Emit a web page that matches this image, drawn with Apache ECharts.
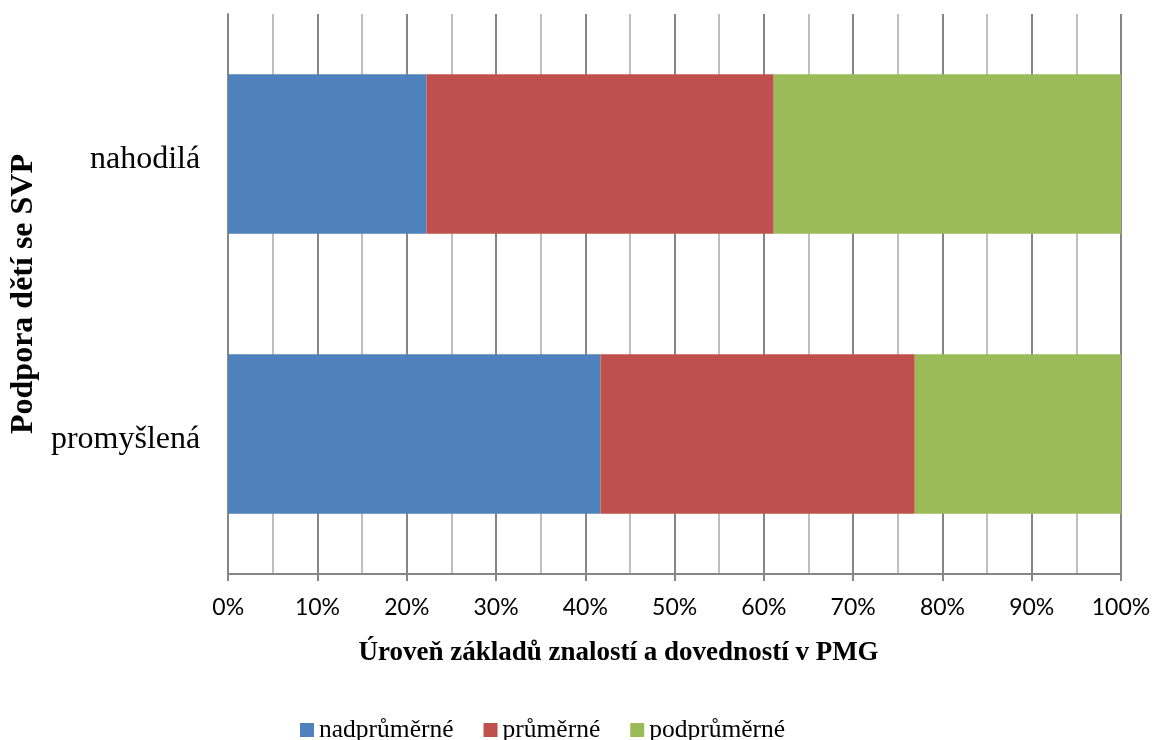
<!DOCTYPE html>
<html>
<head>
<meta charset="utf-8">
<title>Podpora dětí se SVP</title>
<script src="https://cdn.jsdelivr.net/npm/echarts@6/dist/echarts.min.js"></script>
<style>
    html, body { margin: 0; padding: 0; background: #fff; }
    #chart { width: 1154px; height: 740px; }
</style>
</head>
<body>
<div id="chart"></div>
<script>
// categories from bottom to top
var categories = ['promyšlená', 'nahodilá'];
var seriesNames = ['nadprůměrné', 'průměrné', 'podprůměrné'];
// shares in percent, same order as categories
var nadprumerne = [41.7, 22.2];
var prumerne = [35.2, 38.9];
var podprumerne = [23.1, 38.9];

var colors = ['#4f81bd', '#c0504d', '#9bbb59'];
var serif = '"Liberation Serif", "Times New Roman", serif';

function stackBar(name, data, color) {
    return {
        name: name,
        type: 'bar',
        stack: 'total',
        barCategoryGap: '43%',
        itemStyle: {color: color},
        emphasis: {disabled: true},
        data: data
    };
}

var myChart = echarts.init(document.getElementById('chart'));

option = {
    animation: false,
    grid: {left: 225, right: 33, top: 14, bottom: 166},
    legend: {
        left: 295,
        top: 712,
        itemWidth: 14,
        itemHeight: 14,
        itemGap: 30,
        icon: 'rect',
        textStyle: {fontFamily: serif, fontSize: 25.5, color: '#000'},
        data: seriesNames
    },
    xAxis: {
        type: 'value',
        min: 0,
        max: 100,
        interval: 10,
        splitNumber: 10,
        name: 'Úroveň základů znalostí a dovedností v PMG',
        nameLocation: 'middle',
        nameGap: 66,
        nameTextStyle: {
            fontFamily: serif, fontSize: 27, fontWeight: 'bold', color: '#000',
            padding: [0, 112, 0, 0]
        },
        axisLine: {show: true, lineStyle: {color: '#868686', width: 2}},
        axisTick: {show: true, length: 7, lineStyle: {color: '#868686', width: 2}},
        axisLabel: {
            formatter: '{value}%',
            margin: 22,
            fontFamily: 'Lato, "Open Sans", sans-serif',
            fontSize: 23,
            color: '#000'
        },
        splitLine: {show: true, lineStyle: {color: '#868686', width: 2}},
        minorTick: {show: false, splitNumber: 2},
        minorSplitLine: {show: true, lineStyle: {color: '#bfbfbf', width: 2}}
    },
    yAxis: {
        type: 'category',
        data: categories,
        name: 'Podpora dětí se SVP',
        nameLocation: 'middle',
        nameGap: 188,
        nameTextStyle: {fontFamily: serif, fontSize: 32, fontWeight: 'bold', color: '#000'},
        axisLine: {show: true, lineStyle: {color: '#868686', width: 2}},
        axisTick: {show: false},
        axisLabel: {
            margin: 28, fontFamily: serif, fontSize: 32, color: '#000',
            verticalAlign: 'top',
            lineHeight: 12
        },
        splitLine: {show: false}
    },
    series: [
        stackBar(seriesNames[0], nadprumerne, colors[0]),
        stackBar(seriesNames[1], prumerne, colors[1]),
        stackBar(seriesNames[2], podprumerne, colors[2])
    ]
};

myChart.setOption(option);
</script>
</body>
</html>
